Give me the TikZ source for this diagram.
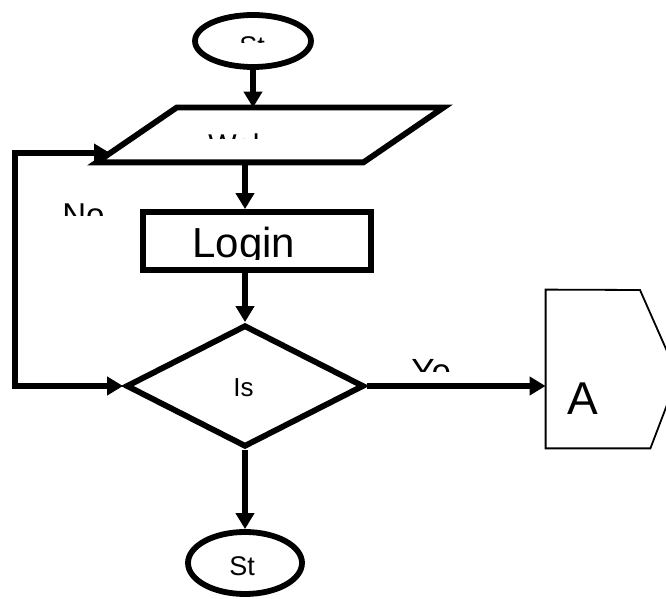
\documentclass[tikz,border=0pt]{standalone}
\usepackage{fontspec}
\setmainfont{Liberation Sans}
\usetikzlibrary{shapes.geometric,arrows.meta,positioning}

\begin{document}
\begin{tikzpicture}[x=0.5pt, y=-0.5pt, >={Triangle[length=8pt,width=9pt]},
        flow/.style={line width=2.9pt},
        bold/.style={draw, line width=2.9pt, inner sep=0pt},
        txt/.style={inner sep=0pt, anchor=base west}]
                \useasboundingbox (0,0) rectangle (666,599);
                \clip (0,0) rectangle (666,599);

                \node[ellipse, bold, minimum width=58pt, minimum height=26pt] (start) at (253,41) {};
                \node[minimum width=173pt, minimum height=27pt, inner sep=0pt] (input) at (270,135) {};
                \draw[flow] (input.south west) -- ([xshift=40pt]input.north west) -- (input.north east) -- ([xshift=-40pt]input.south east) -- cycle;
                \node[rectangle, bold, minimum width=114pt, minimum height=29pt] (login) at (257,241) {};
                \node[diamond, bold, minimum width=119pt, minimum height=61pt] (check) at (245,386) {};
                \node[ellipse, bold, minimum width=57pt, minimum height=31pt] (stop) at (245,563) {};
                \node[minimum width=52pt, minimum height=79pt, inner sep=0pt] (conn) at (598,369) {};
                \draw[line width=0.9pt] (conn.north west) -- (640,290) -- (678,376) -- (conn.south east) -- (conn.south west) -- cycle;

                % texts, cut off like in the picture
                \begin{scope}
                    \clip (0,0) rectangle (666,43);
                    \node[txt, font=\fontsize{13.5}{16}\selectfont] (starttext) at (239,56) {St};
                \end{scope}
                \begin{scope}
                    \clip (0,0) rectangle (666,139);
                    \node[txt, font=\fontsize{15}{18}\selectfont] (inputtext) at (208,156) {Wel};
                \end{scope}
                \begin{scope}
                    \clip (0,0) rectangle (666,216);
                    \node[txt, font=\fontsize{16.5}{20}\selectfont] (notext) at (62,227) {No};
                \end{scope}
                \begin{scope}
                    \clip (0,0) rectangle (666,260);
                    \node[txt, font=\fontsize{21}{25}\selectfont] (logintext) at (192,258) {Login};
                \end{scope}
                \begin{scope}
                    \clip (0,0) rectangle (666,372);
                    \node[txt, font=\fontsize{17.5}{21}\selectfont] (yestext) at (411,384) {Ye};
                \end{scope}
                \node[txt, font=\fontsize{13}{15}\selectfont] (checktext) at (233,397) {Is};
                \node[txt, font=\fontsize{23}{27}\selectfont] (conntext) at (567,415) {A};
                \node[txt, font=\fontsize{13.5}{16}\selectfont] (stoptext) at (229,576) {St};

                \coordinate (back) at (15,153);
                \coordinate (entry) at (110,153);

                \draw[flow, ->] (start) -- (start |- input.north);
                \draw[flow, ->] (input.south -| check.north) -- (login.north -| check.north);
                \draw[flow, ->] (login.south -| check.north) -- (check.north);
                \draw[flow, ->] (check) -- (stop);
                \draw[flow, ->] (check.east) -- (check.east -| conn.west);
                \draw[flow, <->] (check.west) -| (back) -- (entry);
            \end{tikzpicture}
\end{document}
